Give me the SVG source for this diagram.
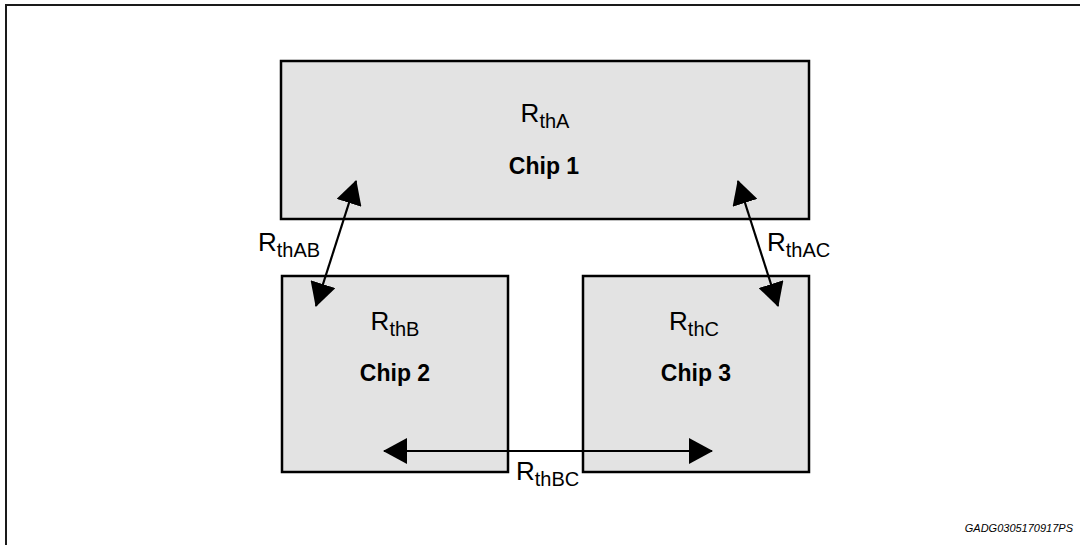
<svg xmlns="http://www.w3.org/2000/svg" width="1080" height="545" viewBox="0 0 1080 545">
<defs>
<style>
.chip{fill:#e3e3e3;stroke:#000;stroke-width:2.5}
.lbl{font-family:"Liberation Sans",Arial,sans-serif;font-size:26px;fill:#000}
.sub{font-size:20px}
.name{font-family:"Liberation Sans",Arial,sans-serif;font-size:23px;font-weight:bold;fill:#000}
.conn{stroke:#000;stroke-width:2.2;fill:none;marker-start:url(#ah);marker-end:url(#ah)}
.foot{font-family:"Liberation Sans",Arial,sans-serif;font-size:11px;font-style:italic;fill:#000}
</style>
<marker id="ah" viewBox="0 0 24 26" refX="23" refY="13" markerWidth="24" markerHeight="26" markerUnits="userSpaceOnUse" orient="auto-start-reverse">
<path d="M0,0 L24,13 L0,26 Z" fill="#000"/>
</marker>
</defs>
<rect width="1080" height="545" fill="#fff"/>
<path d="M6,545 V5 H1080" fill="none" stroke="#1a1a1a" stroke-width="2"/>
<g id="chip1">
<rect class="chip" x="281" y="61" width="528" height="158"/>
<text class="lbl" x="545" y="122" text-anchor="middle">R<tspan class="sub" dy="6">thA</tspan></text>
<text class="name" x="544" y="174" text-anchor="middle">Chip 1</text>
</g>
<g id="chip2">
<rect class="chip" x="282" y="276" width="226" height="196"/>
<text class="lbl" x="395" y="330" text-anchor="middle">R<tspan class="sub" dy="6">thB</tspan></text>
<text class="name" x="395" y="381" text-anchor="middle">Chip 2</text>
</g>
<g id="chip3">
<rect class="chip" x="583" y="276" width="226" height="196"/>
<text class="lbl" x="694" y="330" text-anchor="middle">R<tspan class="sub" dy="6">thC</tspan></text>
<text class="name" x="696" y="381" text-anchor="middle">Chip 3</text>
</g>
<g id="connectors">
<line class="conn" x1="316" y1="306" x2="356" y2="181"/>
<line class="conn" x1="738" y1="181" x2="778" y2="306"/>
<line class="conn" x1="384" y1="451" x2="712" y2="451"/>
<text class="lbl" x="258" y="251">R<tspan class="sub" dy="6">thAB</tspan></text>
<text class="lbl" x="767" y="251">R<tspan class="sub" dy="6">thAC</tspan></text>
<text class="lbl" x="516" y="480">R<tspan class="sub" dy="6">thBC</tspan></text>
</g>
<text class="foot" x="1073" y="532" text-anchor="end">GADG0305170917PS</text>
</svg>
